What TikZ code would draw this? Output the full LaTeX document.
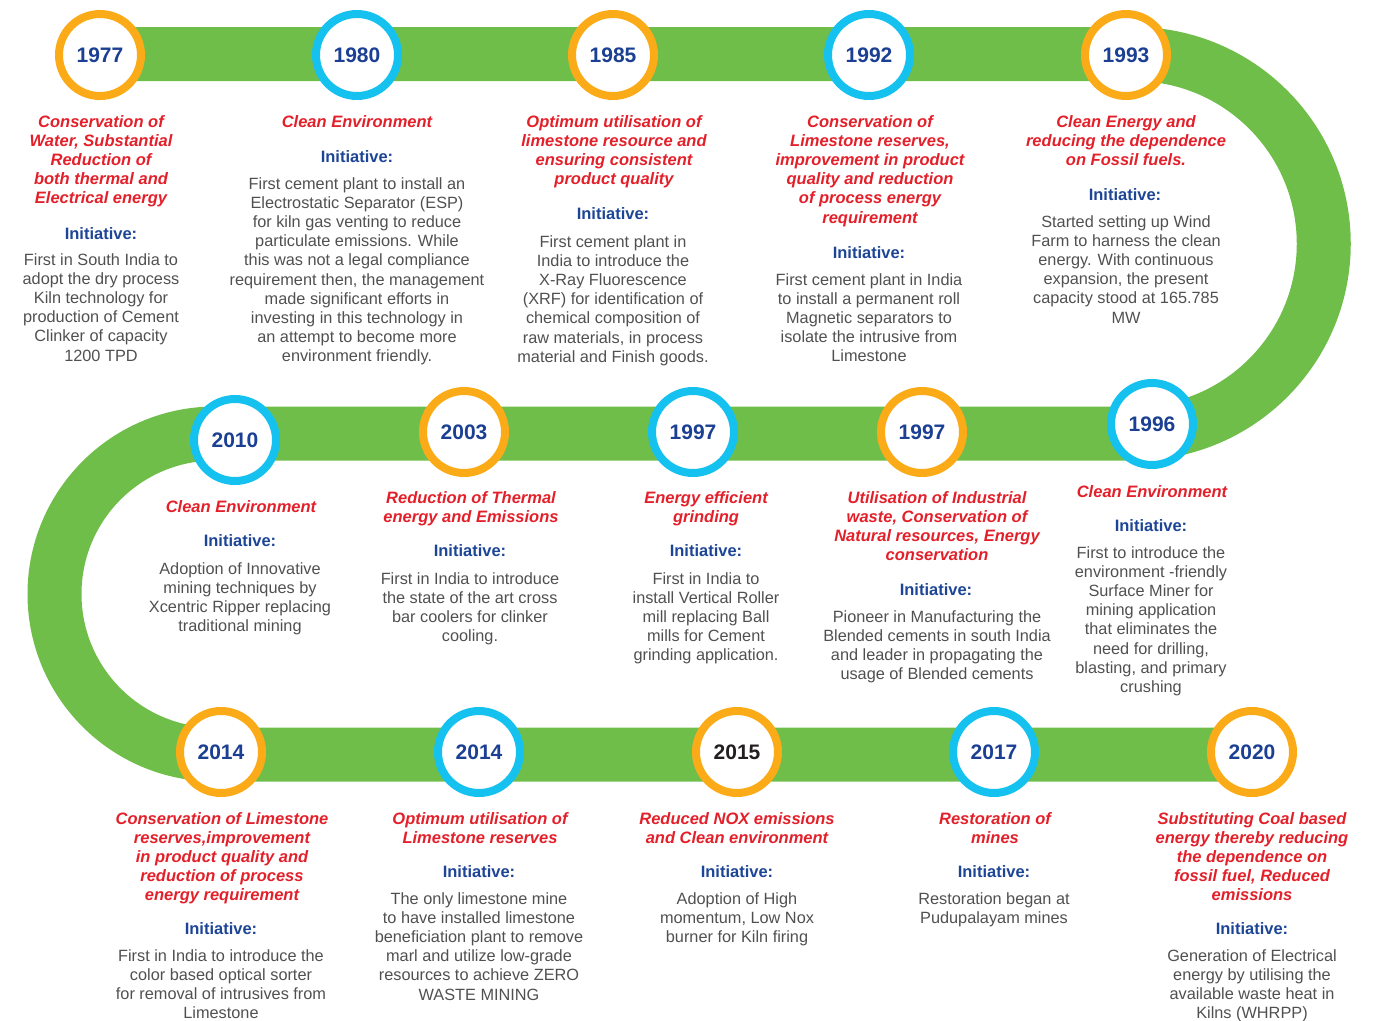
\documentclass[tikz,border=0pt]{standalone}
\usepackage{fontspec}
\setmainfont{Liberation Sans}
\definecolor{band}{HTML}{6FBE4A}
\definecolor{ora}{HTML}{FBAB18}
\definecolor{cya}{HTML}{15C1EE}
\definecolor{yearblue}{HTML}{1B3F92}
\definecolor{yearblack}{HTML}{231F20}
\definecolor{titred}{HTML}{E3202A}
\definecolor{iniblue}{HTML}{1D4596}
\definecolor{bodygray}{HTML}{505050}
\tikzset{
 yearring/.style={circle, draw=#1, line width=8pt, fill=white, minimum size=82pt, inner sep=0pt,
   font=\fontsize{21}{24}\selectfont\bfseries, text=yearblue},
 ttl/.style={anchor=north, align=center, inner sep=0pt, text=titred,
   font=\fontsize{16.5}{19.2}\selectfont\bfseries\itshape},
 ini/.style={anchor=north, inner sep=0pt, text=iniblue, font=\fontsize{16.5}{19.2}\selectfont\bfseries},
 bdy/.style={anchor=north, align=center, inner sep=0pt, text=bodygray,
   font=\fontsize{16.3}{19.2}\selectfont},
 bandline/.style={draw=band, line width=54pt},
}
\begin{document}
\begin{tikzpicture}[x=1pt,y=-1pt]
\useasboundingbox (0,0) rectangle (1383,1020);
% band path
\coordinate (bA) at (100,54);
\coordinate (bB) at (1134,54);
\coordinate (bC) at (215,433.5);
\coordinate (bD) at (1240,754.5);
\draw[bandline] (bA) -- (bB) arc[start angle=90,end angle=-90,radius=189.75pt] -- (bC)
  arc[start angle=90,end angle=270,radius=160.5pt] -- (bD);

% ---- top row
\node[yearring=ora] (y1977) at (100,55) {1977};
\node[ttl] (t1977) at (101,115) {Conservation of\\Water, Substantial\\Reduction of\\both thermal and\\Electrical energy};
\node[ini] (i1977) at (101,227) {Initiative:};
\node[bdy] (b1977) at (101,253) {First in South India to\\adopt the dry process\\Kiln technology for\\production of Cement\\Clinker of capacity\\1200 TPD};

\node[yearring=cya] (y1980) at (357,55) {1980};
\node[ttl] (t1980) at (357,115) {Clean Environment};
\node[ini] (i1980) at (357,150) {Initiative:};
\node[bdy] (b1980) at (357,177) {First cement plant to install an\\Electrostatic Separator (ESP)\\for kiln gas venting to reduce\\particulate emissions. While\\this was not a legal compliance\\requirement then, the management\\made significant efforts in\\investing in this technology in\\an attempt to become more\\environment friendly.};

\node[yearring=ora] (y1985) at (613,55) {1985};
\node[ttl] (t1985) at (614,115) {Optimum utilisation of\\limestone resource and\\ensuring consistent\\product quality};
\node[ini] (i1985) at (613,207) {Initiative:};
\node[bdy] (b1985) at (613,235) {First cement plant in\\India to introduce the\\X-Ray Fluorescence\\(XRF) for identification of\\chemical composition of\\raw materials, in process\\material and Finish goods.};

\node[yearring=cya] (y1992) at (869,55) {1992};
\node[ttl] (t1992) at (870,115) {Conservation of\\Limestone reserves,\\improvement in product\\quality and reduction\\of process energy\\requirement};
\node[ini] (i1992) at (869,246) {Initiative:};
\node[bdy] (b1992) at (869,273) {First cement plant in India\\to install a permanent roll\\Magnetic separators to\\isolate the intrusive from\\Limestone};

\node[yearring=ora] (y1993) at (1126,55) {1993};
\node[ttl] (t1993) at (1126,115) {Clean Energy and\\reducing the dependence\\on Fossil fuels.};
\node[ini] (i1993) at (1125,188) {Initiative:};
\node[bdy] (b1993) at (1126,215) {Started setting up Wind\\Farm to harness the clean\\energy. With continuous\\expansion, the present\\capacity stood at 165.785\\MW};

% ---- middle row
\node[yearring=cya] (y2010) at (235,440) {2010};
\node[ttl] (t2010) at (241,500) {Clean Environment};
\node[ini] (i2010) at (240,534) {Initiative:};
\node[bdy] (b2010) at (240,562) {Adoption of Innovative\\mining techniques by\\Xcentric Ripper replacing\\traditional mining};

\node[yearring=ora] (y2003) at (464,432) {2003};
\node[ttl] (t2003) at (471,491) {Reduction of Thermal\\energy and Emissions};
\node[ini] (i2003) at (470,544) {Initiative:};
\node[bdy] (b2003) at (470,572) {First in India to introduce\\the state of the art cross\\bar coolers for clinker\\cooling.};

\node[yearring=cya] (y1997a) at (693,432) {1997};
\node[ttl] (t1997a) at (706,491) {Energy efficient\\grinding};
\node[ini] (i1997a) at (706,544) {Initiative:};
\node[bdy] (b1997a) at (706,572) {First in India to\\install Vertical Roller\\mill replacing Ball\\mills for Cement\\grinding application.};

\node[yearring=ora] (y1997b) at (922,432) {1997};
\node[ttl] (t1997b) at (937,491) {Utilisation of Industrial\\waste, Conservation of\\Natural resources, Energy\\conservation};
\node[ini] (i1997b) at (936,583) {Initiative:};
\node[bdy] (b1997b) at (937,610) {Pioneer in Manufacturing the\\Blended cements in south India\\and leader in propagating the\\usage of Blended cements};

\node[yearring=cya] (y1996) at (1152,424) {1996};
\node[ttl] (t1996) at (1152,485) {Clean Environment};
\node[ini] (i1996) at (1151,519) {Initiative:};
\node[bdy] (b1996) at (1151,546) {First to introduce the\\environment -friendly\\Surface Miner for\\mining application\\that eliminates the\\need for drilling,\\blasting, and primary\\crushing};

% ---- bottom row
\node[yearring=ora] (y2014a) at (221,752) {2014};
\node[ttl] (t2014a) at (222,812) {Conservation of Limestone\\reserves,improvement\\in product quality and\\reduction of process\\energy requirement};
\node[ini] (i2014a) at (221,922) {Initiative:};
\node[bdy] (b2014a) at (221,949) {First in India to introduce the\\color based optical sorter\\for removal of intrusives from\\Limestone};

\node[yearring=cya] (y2014b) at (479,752) {2014};
\node[ttl] (t2014b) at (480,812) {Optimum utilisation of\\Limestone reserves};
\node[ini] (i2014b) at (479,865) {Initiative:};
\node[bdy] (b2014b) at (479,892) {The only limestone mine\\to have installed limestone\\beneficiation plant to remove\\marl and utilize low-grade\\resources to achieve ZERO\\WASTE MINING};

\node[yearring=ora, text=yearblack] (y2015) at (737,752) {2015};
\node[ttl] (t2015) at (737,812) {Reduced NOX emissions\\and Clean environment};
\node[ini] (i2015) at (737,865) {Initiative:};
\node[bdy] (b2015) at (737,892) {Adoption of High\\momentum, Low Nox\\burner for Kiln firing};

\node[yearring=cya] (y2017) at (994,752) {2017};
\node[ttl] (t2017) at (995,812) {Restoration of\\mines};
\node[ini] (i2017) at (994,865) {Initiative:};
\node[bdy] (b2017) at (994,892) {Restoration began at\\Pudupalayam mines};

\node[yearring=ora] (y2020) at (1252,752) {2020};
\node[ttl] (t2020) at (1252,812) {Substituting Coal based\\energy thereby reducing\\the dependence on\\fossil fuel, Reduced\\emissions};
\node[ini] (i2020) at (1252,922) {Initiative:};
\node[bdy] (b2020) at (1252,949) {Generation of Electrical\\energy by utilising the\\available waste heat in\\Kilns (WHRPP)};
\end{tikzpicture}
\end{document}
